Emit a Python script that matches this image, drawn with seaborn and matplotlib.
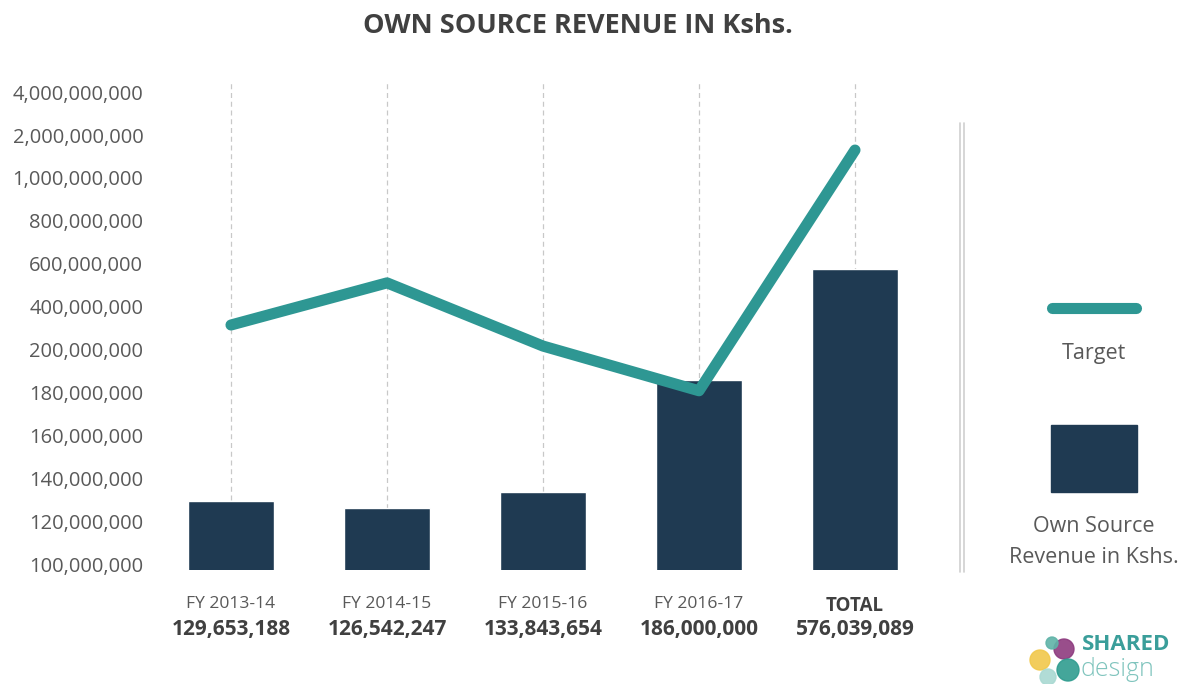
import numpy as np
import pandas as pd
import matplotlib
matplotlib.use("Agg")
import matplotlib.pyplot as plt
from matplotlib.patches import Rectangle, Circle
import seaborn as sns

# data
periods = ["FY 2013-14", "FY 2014-15", "FY 2015-16", "FY 2016-17", "TOTAL"]
revenue = [129653188, 126542247, 133843654, 186000000, 576039089]
target = [316e6, 512e6, 218e6, 181e6, 1.65e9]
revenue_labels = ["129,653,188", "126,542,247", "133,843,654", "186,000,000", "576,039,089"]
tick_vals = [100e6, 120e6, 140e6, 160e6, 180e6, 200e6, 400e6, 600e6, 800e6, 1e9, 2e9, 4e9]

bar_color = "#1f3a52"
line_color = "#2e9793"
text_dark = "#404040"
text_mid = "#595959"

# piecewise-linear axis: every tick the same distance apart
idx = np.arange(len(tick_vals), dtype=float)
tv = np.array(tick_vals)

def fwd(v):
    v = np.asarray(v, dtype=float)
    return np.where(v < tv[0], (v - tv[0]) / 20e6,
                    np.where(v > tv[-1], idx[-1] + (v - tv[-1]) / 2e9,
                             np.interp(v, tv, idx)))

def inv(i):
    i = np.asarray(i, dtype=float)
    return np.where(i < 0, tv[0] + i * 20e6,
                    np.where(i > idx[-1], tv[-1] + (i - idx[-1]) * 2e9,
                             np.interp(i, idx, tv)))

sns.set_style("white")
plt.rcParams["font.family"] = ["Open Sans", "DejaVu Sans"]

fig = plt.figure(figsize=(11.88, 6.84), dpi=100)
ax = fig.add_axes([153 / 1188, 1 - 570 / 684, (933 - 153) / 1188, (570 - 80) / 684])
ax.set_yscale("function", functions=(fwd, inv))

df = pd.DataFrame({"period": periods, "revenue": revenue, "target": target})
sns.barplot(data=df, x="period", y="revenue", color=bar_color, width=0.55,
            saturation=1, ax=ax, zorder=2)
sns.lineplot(x=np.arange(len(periods)), y=df["target"], color=line_color,
             linewidth=8, solid_capstyle="round", ax=ax, zorder=3)

ax.set_xlim(-0.5, 4.5)
ax.set_ylim(inv(-0.12), inv(11.28))
ax.set_yticks(tick_vals)
ax.set_yticklabels([f"{int(v):,}" for v in tick_vals], fontsize=14.5, color=text_mid)
ax.yaxis.set_minor_locator(matplotlib.ticker.NullLocator())
ax.tick_params(axis="y", length=0, pad=7)
ax.tick_params(axis="x", length=0, pad=19)
ax.set_xticks(range(len(periods)))
ax.set_xticklabels(periods, fontsize=12.6, color=text_mid)
ax.get_xticklabels()[-1].set_fontweight("bold")
ax.get_xticklabels()[-1].set_fontsize(13.5)
ax.get_xticklabels()[-1].set_color(text_dark)
ax.set_xlabel("")
ax.set_ylabel("")

for i, lab in enumerate(revenue_labels):
    ax.text(i, -0.122, lab, transform=ax.get_xaxis_transform(), ha="center",
            va="center", fontsize=15, fontweight="bold", color=text_dark)

ax.grid(axis="x", linestyle=(0, (4, 3)), color="#c8c8c8", linewidth=0.9, zorder=0)
ax.grid(axis="y", visible=False)
for s in ax.spines.values():
    s.set_visible(False)

fig.suptitle("OWN SOURCE REVENUE IN Kshs.", x=578 / 1188, y=1 - 26 / 684, va="center",
             fontsize=19.5, fontweight="bold", color=text_dark)

# legend panel on the right
lax = fig.add_axes([0, 0, 1, 1], facecolor="none")
lax.set_xlim(0, 1188)
lax.set_ylim(684, 0)
lax.axis("off")
lax.plot([960, 960], [123, 572], color="#cfcfcf", linewidth=1.2)
lax.plot([964, 964], [123, 572], color="#cfcfcf", linewidth=1.2)
lax.plot([1052, 1136], [308, 308], color=line_color, linewidth=8, solid_capstyle="round")
lax.text(1094, 354, "Target", ha="center", va="center", fontsize=15.5, color=text_mid)
lax.add_patch(Rectangle((1051, 425), 86, 67, color=bar_color))
lax.text(1094, 542, "Own Source\nRevenue in Kshs.", ha="center", va="center",
         fontsize=15.5, color=text_mid, linespacing=1.6)

# logo
for (cx, cy, r, c) in [(1040, 660, 10, "#f1c84b"), (1064, 649, 10, "#8e3b7f"),
                       (1068, 670, 11, "#2f9c8f"), (1048, 677, 8, "#a9d9d2"),
                       (1052, 643, 6, "#5fb3a8")]:
    lax.add_patch(Circle((cx, cy), r, color=c, alpha=0.9))
lax.text(1082, 644, "SHARED", ha="left", va="center", fontsize=16, fontweight="bold",
         color="#3a9e9a")
lax.text(1080, 669, "design", ha="left", va="center", fontsize=18, color="#7fc4bd",
         fontweight="light")

fig.savefig("out.png", dpi=100)
